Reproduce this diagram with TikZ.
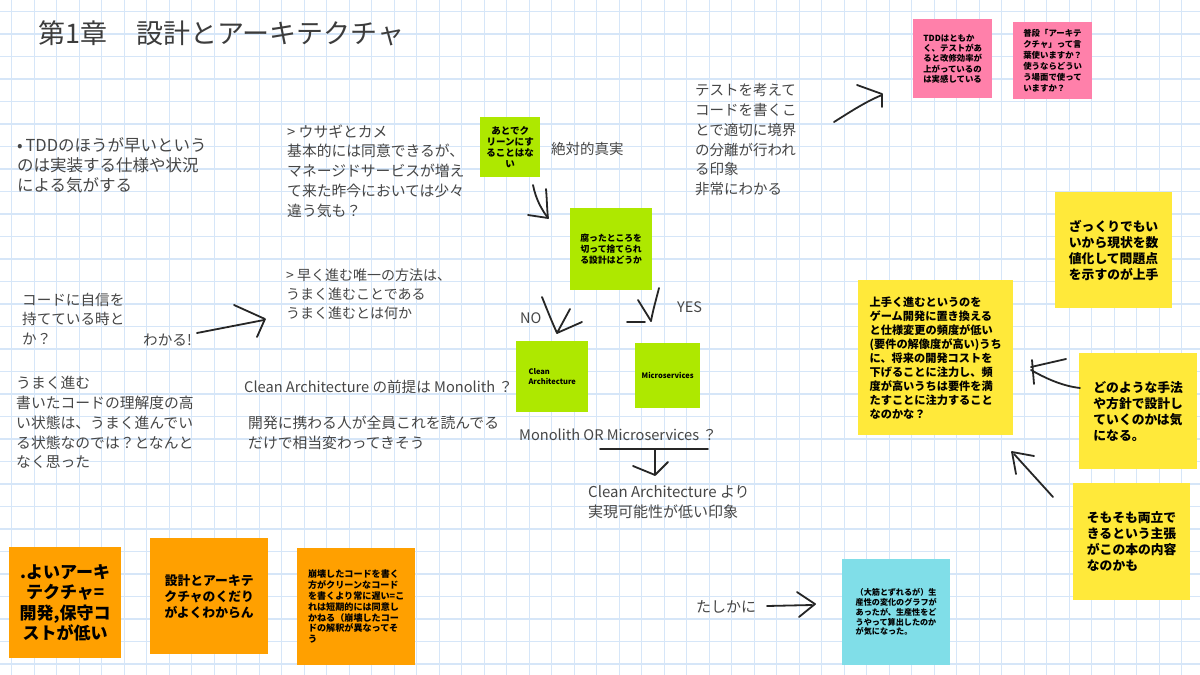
\documentclass[tikz,border=0pt]{standalone}
\usepackage{fontspec}
\setmainfont{Noto Sans CJK JP}
\definecolor{gridc}{RGB}{214,230,248}
\definecolor{txtgray}{RGB}{70,70,70}
\definecolor{titlegray}{RGB}{60,60,60}
\definecolor{ngreen}{RGB}{174,232,0}
\definecolor{npink}{RGB}{255,128,170}
\definecolor{nyellow}{RGB}{255,233,58}
\definecolor{norange}{RGB}{255,160,0}
\definecolor{ncyan}{RGB}{128,222,232}
\newcommand\fs[2]{\fontsize{#1}{#2}\selectfont}
\begin{document}
\begin{tikzpicture}[x=1pt,y=-1pt,
  txt/.style={anchor=north west,inner sep=0pt,align=left,text=txtgray},
  lbl/.style={anchor=west,inner sep=0pt,text=txtgray},
  note/.style={anchor=north west,inner sep=0pt,text=black},
  stroke/.style={line width=1.8pt,line cap=round,line join=round,black!85}]
\useasboundingbox (0,0) rectangle (1200,675);
\fill[white] (0,0) rectangle (1200,675);
\foreach \i in {0,...,52} \draw[gridc,line width=1.2pt] ({11.7+22.5*\i},0) -- ({11.7+22.5*\i},675);
\foreach \j in {0,...,29} \draw[gridc,line width=1.2pt] (0,{11.5+22.5*\j}) -- (1200,{11.5+22.5*\j});

% title and free texts
\node[lbl,font=\fs{27}{31},text=titlegray] (title) at (38,33) {第1章\hspace{29pt}設計とアーキテクチャ};
\node[txt,font=\fs{16.5}{20.3}] (t1) at (17,137) {•\,TDDのほうが早いという\\のは実装する仕様や状況\\による気がする};
\node[txt,font=\fs{14.8}{19.8}] (t2) at (287,124.3) {> ウサギとカメ\\基本的には同意できるが、\\マネージドサービスが増え\\て来た昨今においては少々\\違う気も？};
\node[txt,font=\fs{14}{19}] (t3) at (286,268.7) {> 早く進む唯一の方法は、\\うまく進むことである\\うまく進むとは何か};
\node[txt,font=\fs{14.6}{19.7}] (t4) at (22,292.7) {コードに自信を\\持てている時と\\か？};
\node[lbl,font=\fs{14.6}{19}] (t5) at (143,340) {わかる!};
\node[txt,font=\fs{14.8}{19.8}] (t6) at (16,376) {うまく進む\\書いたコードの理解度の高\\い状態は、うまく進んでい\\る状態なのでは？となんと\\なく思った};
\node[lbl,font=\fs{14.6}{19}] (t7) at (244,386.7) {Clean Architecture の前提は Monolith ？};
\node[txt,font=\fs{14.8}{19.5}] (t8) at (248,416) {開発に携わる人が全員これを読んでる\\だけで相当変わってきそう};
\node[lbl,font=\fs{14.6}{19}] (t9) at (519,435) {Monolith OR Microservices ？};
\node[txt,font=\fs{15}{20}] (t10) at (588,485.8) {Clean Architecture より\\実現可能性が低い印象};
\node[lbl,font=\fs{14.5}{19}] (t11) at (551,149.3) {絶対的真実};
\node[lbl,font=\fs{14.5}{19}] (no) at (520,317.7) {NO};
\node[lbl,font=\fs{14.5}{19}] (yes) at (677,306.7) {YES};
\node[txt,font=\fs{14.5}{19.8}] (t13) at (695,83.4) {テストを考えて\\コードを書くこ\\とで適切に境界\\の分離が行われ\\る印象\\非常にわかる};
\node[lbl,font=\fs{15}{19}] (t14) at (696,607) {たしかに};

% sticky notes
\node[note,fill=ngreen,minimum width=60pt,minimum height=60pt,align=center,font=\bfseries\fs{9.5}{11}] (n1) at (480,117) {あとでク\\リーンにす\\ることはな\\い};
\node[note,fill=ngreen,minimum width=82pt,minimum height=82pt,align=center,font=\bfseries\fs{8.8}{10.7}] (n2) at (570,208) {腐ったところを\\切って捨てられ\\る設計はどうか};
\node[note,fill=ngreen,minimum width=72pt,minimum height=71pt,align=left,font=\bfseries\fs{7.5}{10}] (n3) at (516,341) {Clean\\Architecture};
\node[note,fill=ngreen,minimum width=65pt,minimum height=65pt,align=center,font=\bfseries\fs{7.5}{10}] (n4) at (635,343) {Microservices};
\node[note,fill=npink,minimum width=79pt,minimum height=79pt,align=left,font=\bfseries\fs{8.4}{10.3}] (n5) at (913,19) {TDDはともか\\く、テストがあ\\ると改修効率が\\上がっているの\\は実感している};
\node[note,fill=npink,minimum width=79pt,minimum height=77pt,align=left,font=\bfseries\fs{8.4}{11}] (n6) at (1013,22) {普段「アーキテ\\クチャ」って言\\葉使いますか？\\使うならどうい\\う場面で使って\\いますか？};
\node[note,fill=nyellow,minimum width=117pt,minimum height=116pt,align=left,font=\bfseries\fs{12.8}{16}] (n7) at (1055,192) {ざっくりでもい\\いから現状を数\\値化して問題点\\を示すのが上手};
\node[note,fill=nyellow,minimum width=155pt,minimum height=155pt,align=left,font=\bfseries\fs{11.2}{14}] (n8) at (858,280) {上手く進むというのを\\ゲーム開発に置き換える\\と仕様変更の頻度が低い\\(要件の解像度が高い)うち\\に、将来の開発コストを\\下げることに注力し、頻\\度が高いうちは要件を満\\たすことに注力すること\\なのかな？};
\node[note,fill=nyellow,minimum width=118pt,minimum height=116pt,align=left,font=\bfseries\fs{12.8}{16}] (n9) at (1079,353) {どのような手法\\や方針で設計し\\ていくのかは気\\になる。};
\node[note,fill=nyellow,minimum width=117pt,minimum height=117pt,align=left,font=\bfseries\fs{12.8}{16}] (n10) at (1073,483) {そもそも両立で\\きるという主張\\がこの本の内容\\なのかも};
\node[note,fill=norange,minimum width=112pt,minimum height=111pt,align=center,font=\bfseries\fs{17}{20.3}] (n11) at (9,547) {.よいアーキ\\テクチャ=\\開発,保守コ\\ストが低い};
\node[note,fill=norange,minimum width=118pt,minimum height=116pt,align=center,font=\bfseries\fs{12.8}{16}] (n12) at (150,538) {設計とアーキテ\\クチャのくだり\\がよくわからん};
\node[note,fill=norange,minimum width=118pt,minimum height=117pt,align=left,font=\bfseries\fs{9.1}{10.8}] (n13) at (297,548) {崩壊したコードを書く\\方がクリーンなコード\\を書くより常に遅い=こ\\れは短期的には同意し\\かねる（崩壊したコー\\ドの解釈が異なってそ\\う};
\node[note,fill=ncyan,minimum width=108pt,minimum height=106pt,align=left,font=\bfseries\fs{8.1}{9.8}] (n14) at (842,559) {（大筋とずれるが）生\\産性の変化のグラフが\\あったが、生産性をど\\うやって算出したのか\\が気になった。};

% hand-drawn arrows
\draw[stroke] (197,333) -- (264,320);
\draw[stroke] (234,305) -- (265,319) -- (257,337);

\draw[stroke] (834,122) .. controls (850,112) and (865,102) .. (882,95);
\draw[stroke] (857,85) -- (882,94) -- (882,107);

\draw[stroke] (533,185) .. controls (536,200) and (542,210) .. (548,218);
\draw[stroke] (546,189) .. controls (547,200) and (547,210) .. (548,218);
\draw[stroke] (528,215) -- (548,218);

\draw[stroke] (542,297) .. controls (548,312) and (552,322) .. (557,333);
\draw[stroke] (570,309) -- (557,333) -- (582,322);

\draw[stroke] (659,288) .. controls (656,300) and (653,310) .. (651,321);
\draw[stroke] (638,300) -- (651,321);
\draw[stroke] (627,322) -- (645,322);

\draw[stroke] (600,449) -- (708,449);
\draw[stroke] (655,449) -- (655,474);
\draw[stroke] (633,466) -- (655,475) -- (668,462);

\draw[stroke] (767,606) -- (812,605);
\draw[stroke] (797,592) -- (815,604) -- (799,617);

\draw[stroke] (1066,359) -- (1031,367);
\draw[stroke] (1031,370) .. controls (1045,378) and (1062,386) .. (1080,388);
\draw[stroke] (1032,360) -- (1034,384);

\draw[stroke] (1053,497) -- (1014,454);
\draw[stroke] (1012,452) -- (1016,474);
\draw[stroke] (1012,452) -- (1034,456);
\end{tikzpicture}
\end{document}
